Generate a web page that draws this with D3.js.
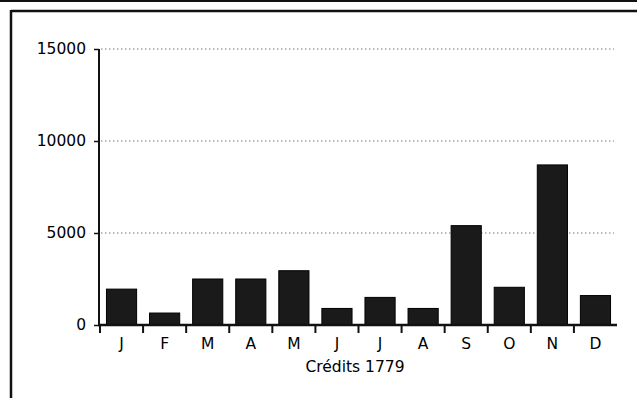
<!DOCTYPE html>
<html><head><meta charset="utf-8">
<script src="https://cdn.jsdelivr.net/npm/d3@7"></script>
<style>
html,body{margin:0;padding:0;background:#fff;}
svg{display:block;}
text{font-family:"DejaVu Sans",sans-serif;fill:#000;}
</style></head>
<body><svg id="c" width="637" height="398"></svg>
<script>
const months = ["J","F","M","A","M","J","J","A","S","O","N","D"];
const credits = [1950, 650, 2500, 2500, 2950, 900, 1500, 900, 5400, 2050, 8700, 1600];
const yTicks = [0, 5000, 10000, 15000];
const title = "Crédits 1779";

const svg = d3.select("#c");
// frame
svg.append("rect").attr("x",0).attr("y",0).attr("width",637).attr("height",2).attr("fill","#111");
svg.append("line").attr("x1",11).attr("y1",11).attr("x2",637).attr("y2",11).attr("stroke","#111").attr("stroke-width",2.5);
svg.append("line").attr("x1",11).attr("y1",10).attr("x2",11).attr("y2",398).attr("stroke","#111").attr("stroke-width",2.5);

const x = d3.scaleBand().domain(d3.range(months.length)).range([100,617]).paddingInner(0.3).paddingOuter(0.15);
const y = d3.scaleLinear().domain([0,15000]).range([325,49]);

// gridlines
svg.append("g").selectAll("line").data(yTicks.filter(d=>d>0)).join("line")
  .attr("x1",101).attr("x2",614).attr("y1",d=>y(d)).attr("y2",d=>y(d))
  .attr("stroke","#777").attr("stroke-width",1).attr("stroke-dasharray","1.5,2.5");

// bars
svg.append("g").selectAll("rect").data(credits).join("rect")
  .attr("x",(d,i)=>x(i)).attr("width",x.bandwidth())
  .attr("y",d=>y(d)).attr("height",d=>y(0)-y(d))
  .attr("fill","#1a1a1a").attr("stroke","#000").attr("stroke-width",1);

// y axis
const ya = svg.append("g").attr("transform","translate(99,0)")
  .call(d3.axisLeft(y).tickValues(yTicks).tickSize(5).tickPadding(8).tickFormat(d3.format("d")));
ya.select(".domain").attr("stroke","#111").attr("stroke-width",2).attr("d","M0,"+y(15000)+"V"+y(0));
ya.selectAll(".tick line").attr("stroke","#111").attr("stroke-width",1.5);
ya.selectAll("text").attr("font-size",15.5).attr("fill","#000").style("font-family","DejaVu Sans, sans-serif");

// x axis baseline
svg.append("line").attr("x1",98).attr("x2",617).attr("y1",y(0)).attr("y2",y(0)).attr("stroke","#111").attr("stroke-width",2.5);
// ticks at band boundaries
const step = x.step();
svg.append("g").selectAll("line").data(d3.range(months.length)).join("line")
  .attr("x1",i=>x(i)-step*x.paddingInner()/2).attr("x2",i=>x(i)-step*x.paddingInner()/2)
  .attr("y1",y(0)).attr("y2",y(0)+8).attr("stroke","#111").attr("stroke-width",2);
// labels
svg.append("g").selectAll("text").data(months).join("text")
  .attr("x",(d,i)=>x(i)+x.bandwidth()/2).attr("y",349)
  .attr("text-anchor","middle").attr("font-size",15.5).text(d=>d);
svg.append("text").attr("x",355).attr("y",372).attr("text-anchor","middle").attr("font-size",15.5).text(title);
</script></body></html>
